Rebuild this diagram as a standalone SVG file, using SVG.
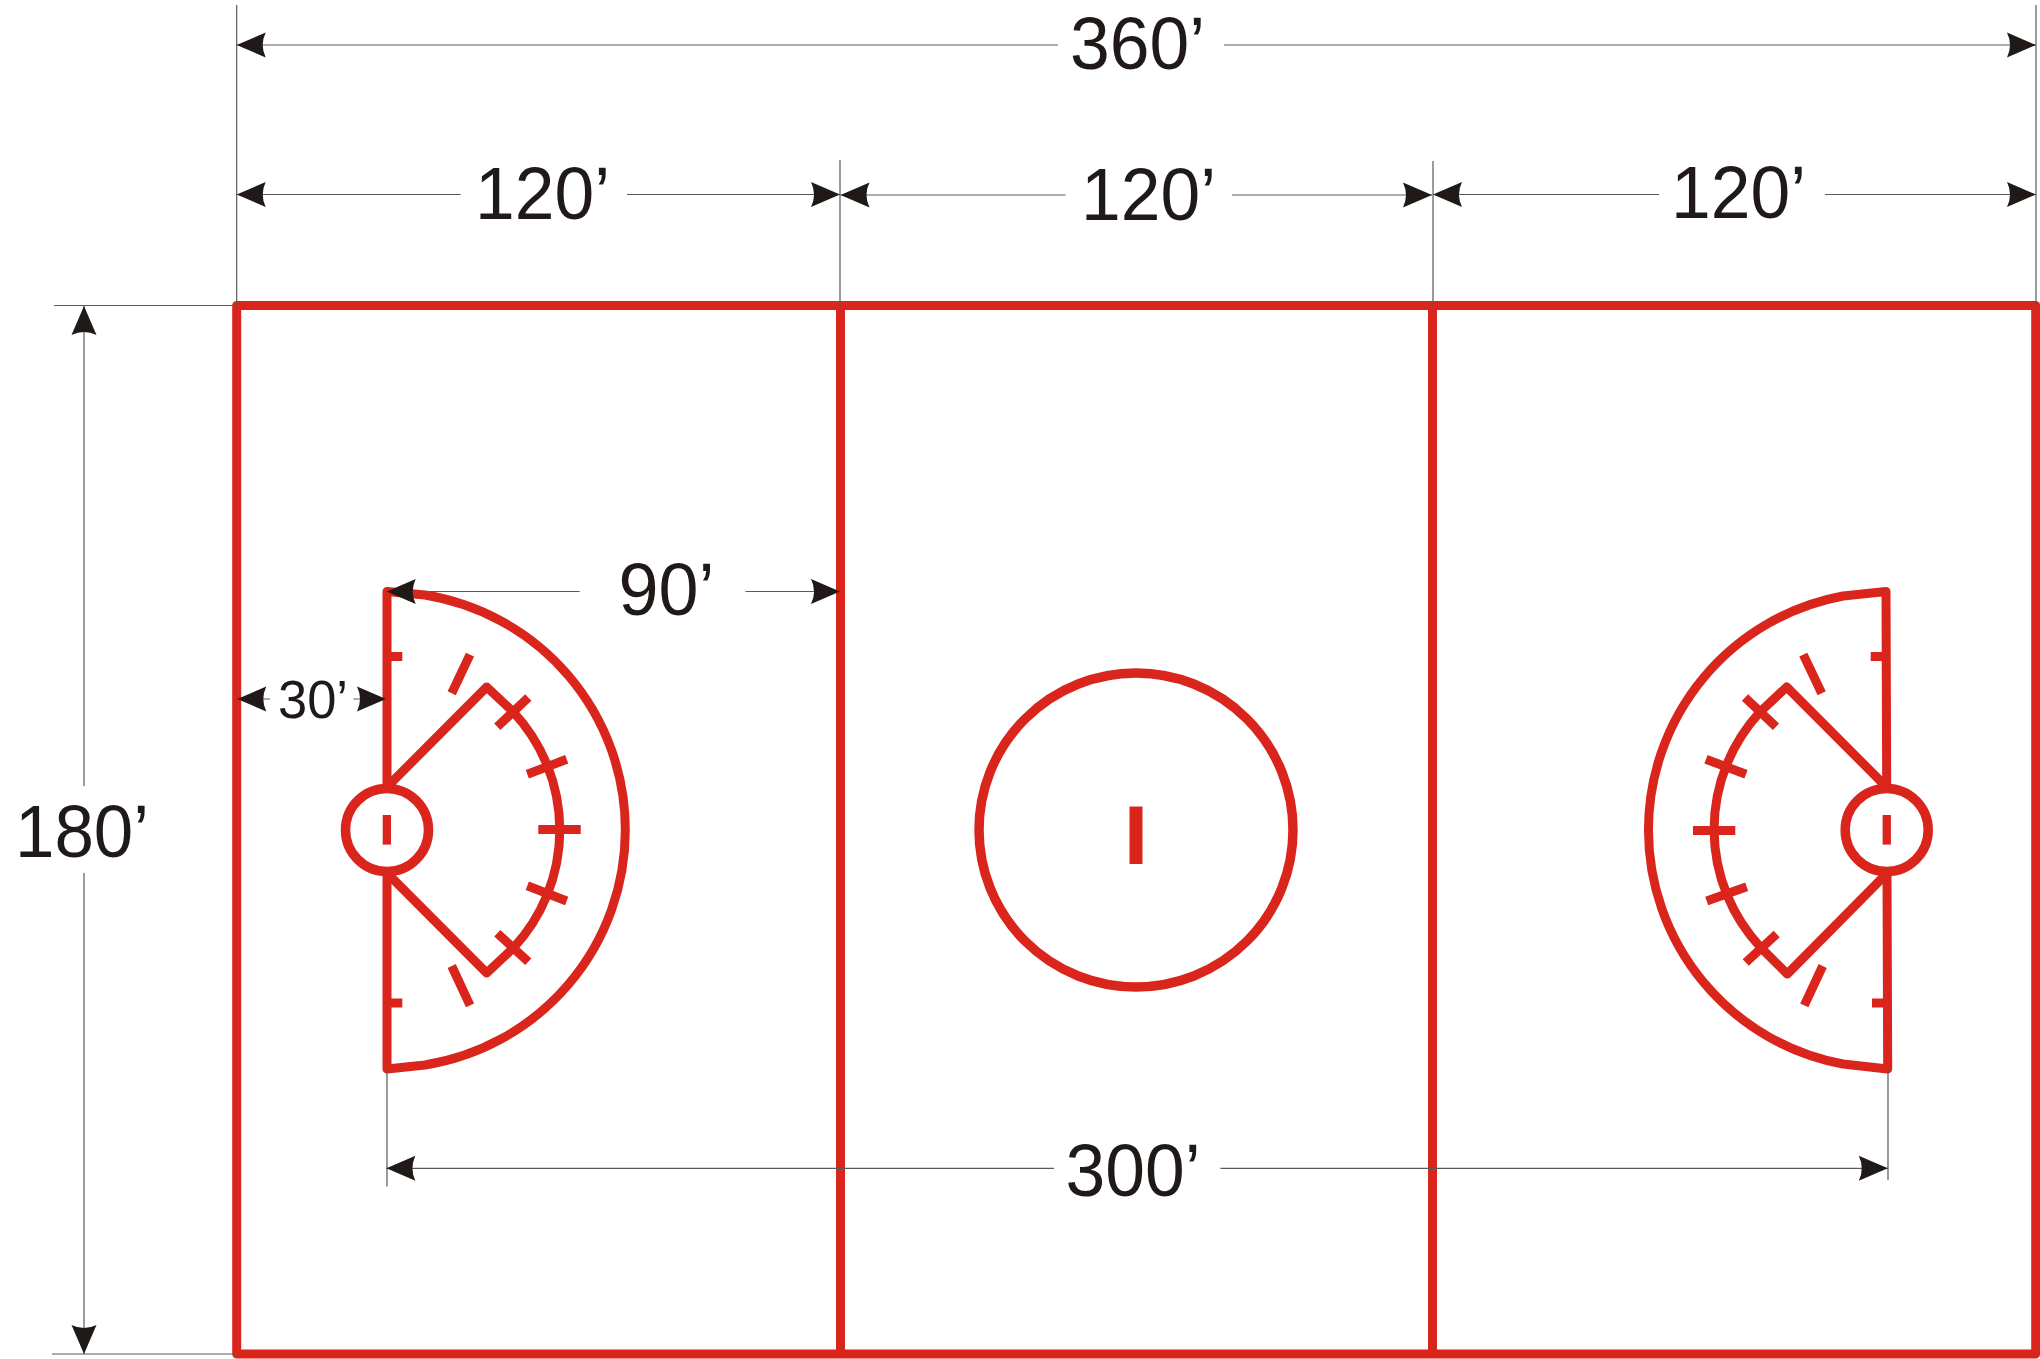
<svg xmlns="http://www.w3.org/2000/svg" width="2040" height="1359" viewBox="0 0 2040 1359">
<style>
.r{fill:none;stroke:#DA251C;stroke-width:9;stroke-linejoin:round}
.c{fill:#fff;stroke:#DA251C;stroke-width:9.5}
.d{fill:none;stroke:#5a5a5a;stroke-width:1.2}
.a{marker-end:url(#arrow)}
text{font-family:"Liberation Sans",Arial,sans-serif;font-size:75px;fill:#1F1A17}
</style>
<defs>
<marker id="arrow" markerUnits="userSpaceOnUse" markerWidth="30" markerHeight="26" refX="29" refY="13" orient="auto" overflow="visible">
<path d="M29 13L0 .5Q6 13 0 25.5Z" fill="#1F1A17"/>
</marker>
</defs>
<rect width="2040" height="1359" fill="#fff"/>
<g id="field">
<rect class="r" x="236.7" y="305.5" width="1799" height="1048.5"/>
<path class="r" d="M840.5 305.5V1354M1432.5 305.5V1354"/>
</g>
<g id="center-circle">
<circle class="c" cx="1136" cy="830" r="157"/>
<rect x="1129.5" y="806.5" width="13" height="57.5" fill="#DA251C"/>
</g>
<g id="left-zone">
<path class="r" d="M387 591.5L425 595A238 238 0 0 1 425 1065L387 1069Z"/>
<path class="r" d="M387 787L486.7 687L513.3 712A173 173 0 0 1 513.3 948L486.7 973L387 873"/>
<path class="r" d="M387 656.4H402.3M387 1002.9H402.3M528.3 697.5L497.3 726.8M566.7 759.3L527.3 774.3M538.3 829.6H580.7M566.7 901L527.3 885.7M528.3 961.8L497.3 933.2M470 654.6L451.7 693.2M451.7 966L470 1005.4"/>
<circle class="c" cx="387" cy="830" r="41.5"/>
<rect x="382.7" y="815" width="8.3" height="29.6" fill="#DA251C"/>
</g>
<g id="right-zone">
<path class="r" d="M1886 591.5L1843 596A238 238 0 0 0 1843 1064L1887.7 1069Z"/>
<path class="r" d="M1886.5 787L1786.7 687L1760 712A173 173 0 0 0 1760.7 947.5L1787.3 974L1887.3 873"/>
<path class="r" d="M1870.7 656.4H1886M1872 1002.9H1887.5M1745 697.5L1776 726.8M1706 759.3L1746 774.3M1693 830.4H1735.3M1706.7 901L1746.7 886.8M1745.7 962.5L1776.7 934M1803.3 654.6L1821.7 693.2M1822.7 966L1804.3 1005.4"/>
<circle class="c" cx="1886.7" cy="830" r="41.5"/>
<rect x="1882.6" y="815" width="8.3" height="29.6" fill="#DA251C"/>
</g>
<g id="connectors">
<path class="d" d="M236.7 5V305M840 160V305M1433 161V305M2036 5V305M54 305.5H236M52 1354H236M387 1069V1186.5M1888 1069V1180"/>
<line class="d a" x1="1058" y1="45" x2="236.7" y2="45"/>
<line class="d a" x1="1224" y1="45" x2="2036" y2="45"/>
<line class="d a" x1="460.7" y1="194.5" x2="236.7" y2="194.5"/>
<line class="d a" x1="627" y1="194.5" x2="840" y2="194.5"/>
<line class="d a" x1="1065.5" y1="195" x2="840.5" y2="195"/>
<line class="d a" x1="1232" y1="195" x2="1432" y2="195"/>
<line class="d a" x1="1659" y1="194.5" x2="1433" y2="194.5"/>
<line class="d a" x1="1825" y1="194.5" x2="2036" y2="194.5"/>
<line class="d a" x1="84" y1="786" x2="84" y2="306"/>
<line class="d a" x1="84" y1="873" x2="84" y2="1354"/>
<line class="d a" x1="579.7" y1="591.5" x2="386.7" y2="591.5"/>
<line class="d a" x1="745.5" y1="591.5" x2="840" y2="591.5"/>
<line class="d a" x1="270" y1="699" x2="237.3" y2="699"/>
<line class="d a" x1="353.3" y1="699" x2="386" y2="699"/>
<line class="d a" x1="1054" y1="1168.3" x2="386.4" y2="1168.3"/>
<line class="d a" x1="1220.4" y1="1168.3" x2="1887.8" y2="1168.3"/>
</g>
<g id="labels">
<text x="1070" y="69" textLength="135" lengthAdjust="spacingAndGlyphs">360’</text>
<text x="475" y="219" textLength="135" lengthAdjust="spacingAndGlyphs">120’</text>
<text x="1081" y="220" textLength="135" lengthAdjust="spacingAndGlyphs">120’</text>
<text x="1671" y="218" textLength="135" lengthAdjust="spacingAndGlyphs">120’</text>
<text x="618.5" y="615" textLength="96" lengthAdjust="spacingAndGlyphs">90’</text>
<text x="278" y="718" textLength="70" lengthAdjust="spacingAndGlyphs" style="font-size:54px">30’</text>
<text x="1065.5" y="1196" textLength="135" lengthAdjust="spacingAndGlyphs">300’</text>
<text x="15" y="857" textLength="134" lengthAdjust="spacingAndGlyphs">180’</text>
</g>
</svg>
